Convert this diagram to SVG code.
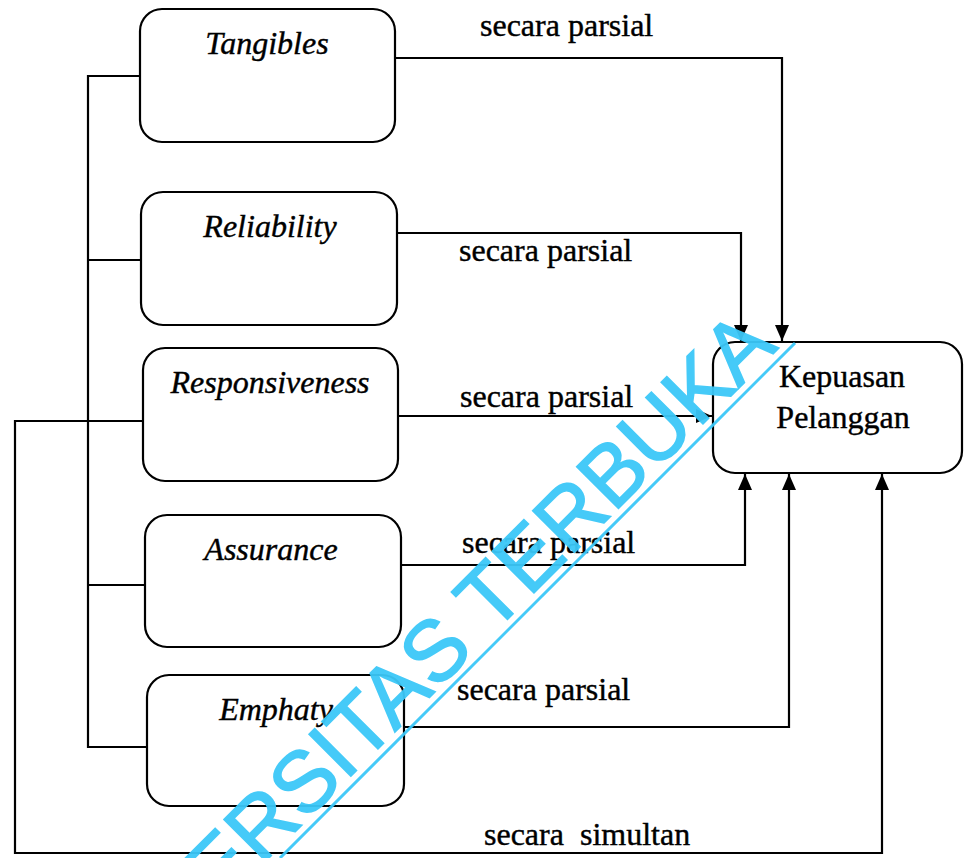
<svg xmlns="http://www.w3.org/2000/svg" width="964" height="858" viewBox="0 0 964 858">
  <style>
    .box { fill: #ffffff; stroke: #000000; stroke-width: 2.2; }
    .lbl { font-family: "Liberation Serif", "Times New Roman", serif; font-size: 32px; font-style: italic; fill: #000000; stroke: #000000; stroke-width: 0.4; text-anchor: middle; }
    .txt { font-family: "Liberation Serif", "Times New Roman", serif; font-size: 32px; fill: #000000; stroke: #000000; stroke-width: 0.4; }
    .conn { fill: none; stroke: #000000; stroke-width: 2.2; }
    .wm { font-family: "Liberation Sans", Arial, sans-serif; font-size: 86px; fill: #3cc8f8; stroke: #3cc8f8; stroke-width: 1.5; }
  </style>
  <defs>
    <marker id="arr" viewBox="0 0 16 14" refX="16" refY="7" markerWidth="16" markerHeight="14" markerUnits="userSpaceOnUse" orient="auto">
      <path d="M0,0 L16,7 L0,14 Z" fill="#000000"/>
    </marker>
  </defs>
  <rect width="964" height="858" fill="#ffffff"/>

  <g id="connectors">
    <!-- bus on the left -->
    <path class="conn" d="M140,76 H88 V747 H147"/>
    <path class="conn" d="M88,260 H141"/>
    <path class="conn" d="M88,585 H145"/>
    <!-- partial effects -->
    <path class="conn" marker-end="url(#arr)" d="M395,58 H782 V341"/>
    <path class="conn" marker-end="url(#arr)" d="M397,233 H741 V341"/>
    <path class="conn" marker-end="url(#arr)" d="M398,416 H712"/>
    <path class="conn" marker-end="url(#arr)" d="M401,565 H745 V474"/>
    <path class="conn" marker-end="url(#arr)" d="M404,727 H789 V474"/>
    <!-- simultaneous -->
    <path class="conn" marker-end="url(#arr)" d="M143,421 H15 V853 H882 V474"/>
    <text class="txt" x="480" y="36">secara parsial</text>
    <text class="txt" x="459" y="261">secara parsial</text>
    <text class="txt" x="460" y="407">secara parsial</text>
    <text class="txt" x="462" y="553">secara parsial</text>
    <text class="txt" x="457" y="700">secara parsial</text>
    <text class="txt" x="484" y="845" style="white-space:pre">secara  simultan</text>
  </g>

  <g id="tangibles">
    <rect class="box" x="140" y="9" width="255" height="133" rx="22"/>
    <text class="lbl" x="267" y="54">Tangibles</text>
  </g>
  <g id="reliability">
    <rect class="box" x="141" y="192" width="256" height="133" rx="22"/>
    <text class="lbl" x="270" y="237">Reliability</text>
  </g>
  <g id="responsiveness">
    <rect class="box" x="143" y="348" width="255" height="133" rx="22"/>
    <text class="lbl" x="270" y="393">Responsiveness</text>
  </g>
  <g id="assurance">
    <rect class="box" x="145" y="515" width="256" height="132" rx="22"/>
    <text class="lbl" x="271" y="560">Assurance</text>
  </g>
  <g id="emphaty">
    <rect class="box" x="147" y="675" width="257" height="131" rx="22"/>
    <text class="lbl" x="276" y="720">Emphaty</text>
  </g>
  <g id="kepuasan">
    <rect class="box" x="713" y="342" width="249" height="131" rx="22"/>
    <text class="txt" x="842" y="387" text-anchor="middle">Kepuasan</text>
    <text class="txt" x="843" y="428" text-anchor="middle">Pelanggan</text>
  </g>

  <g id="watermark" opacity="0.95">
    <line x1="280" y1="858" x2="795" y2="343" stroke="#3cc8f8" stroke-width="3"/>
    <text class="wm" text-anchor="end" transform="translate(779,348) rotate(-45)">ERSITAS TERBUKA</text>
  </g>
</svg>
